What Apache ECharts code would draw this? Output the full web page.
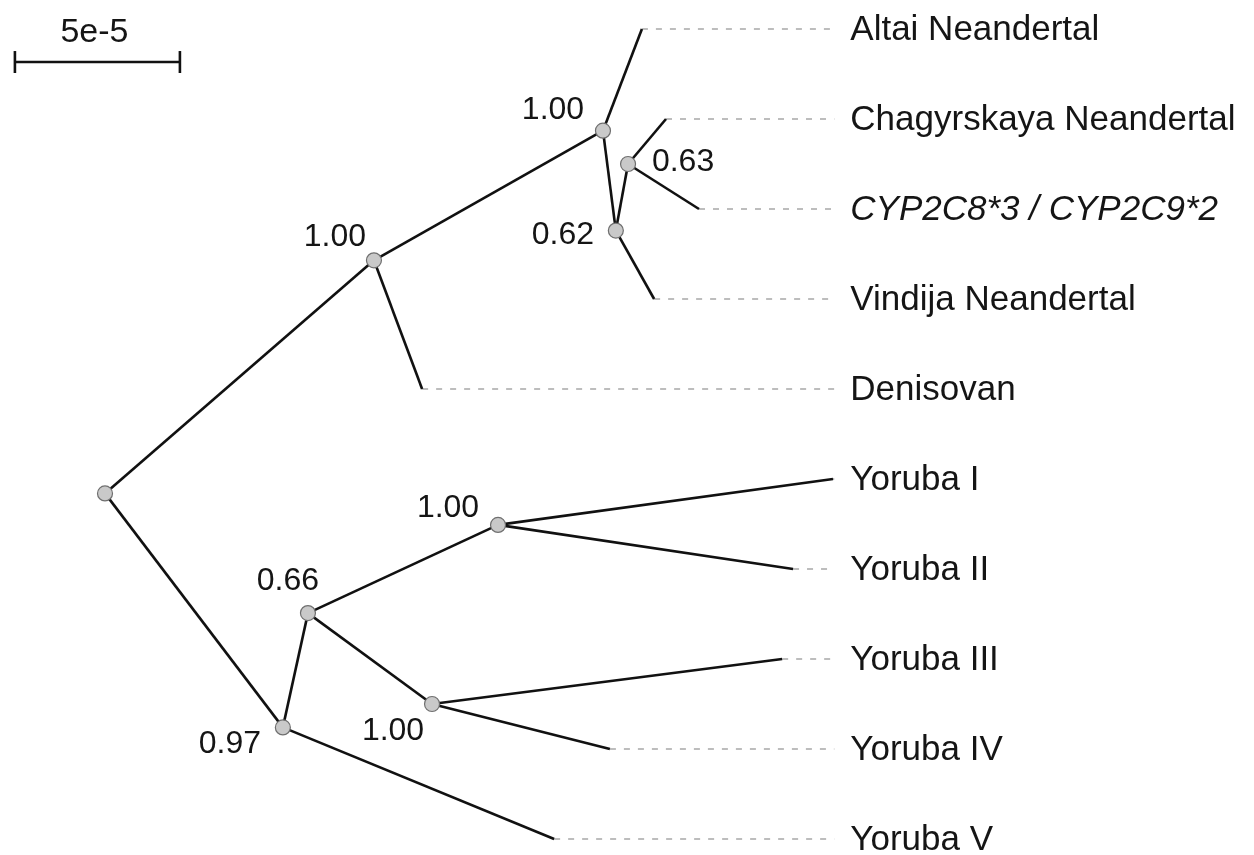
<!DOCTYPE html>
<html>
<head>
<meta charset="utf-8">
<script src="https://cdn.jsdelivr.net/npm/echarts@6/dist/echarts.min.js"></script>
<style>
html,body{margin:0;padding:0;background:#fff;}
#chart{width:1254px;height:855px;}
</style>
</head>
<body>
<div id="chart"></div>
<script>
// ---- Data (distances in units of 1e-5 substitutions/site, rows = leaf order) ----
const nodeIds    = ['root','ND','Nean','n062','n063','Altai','Chag','CYP','Vind','Denis','Yroot','n066','Y12','Y34','Y1','Y2','Y3','Y4','Y5'];
const parentIds  = [null,'root','ND','Nean','n062','Nean','n063','n063','n062','ND','root','Yroot','n066','n066','Y12','Y12','Y34','Y34','Yroot'];
const nodeDist   = [0, 8.15, 15.09, 15.48, 15.85, 16.27, 17.0, 18.0, 16.64, 9.61, 5.39, 6.15, 11.91, 9.91, 22.06, 20.85, 20.52, 15.30, 13.61];
const nodeRow    = [5.16, 2.57, 1.13, 2.24, 1.5, 0, 1, 2, 3, 4, 7.76, 6.49, 5.51, 7.5, 5, 6, 7, 8, 9];
const supportVal = ['', '1.00', '1.00', '0.62', '0.63', null, null, null, null, null, '0.97', '0.66', '1.00', '1.00', null, null, null, null, null];
const leafIds    = ['Altai','Chag','CYP','Vind','Denis','Y1','Y2','Y3','Y4','Y5'];
const leafNames  = ['Altai Neandertal','Chagyrskaya Neandertal','CYP2C8*3 / CYP2C9*2','Vindija Neandertal','Denisovan','Yoruba I','Yoruba II','Yoruba III','Yoruba IV','Yoruba V'];
const italicLeaves = ['CYP'];
const guideEnd   = 22.1;     // where dashed guide lines end
const scaleLength = 5;       // 5e-5
const scaleLabel = '5e-5';
const scaleStart = -2.73;
const scaleRow   = 0.367;

// label offsets for support values (styling)
const supportOffset = {
  ND: [-39, -23], Nean: [-50, -21], n062: [-53, 5], n063: [55, -2],
  Yroot: [-53, 17], n066: [-20, -32], Y12: [-50, -17], Y34: [-39, 27]
};

const FONT = "'Liberation Sans', Arial, 'DejaVu Sans', sans-serif";
const TXT = '#151515';
const idx = id => nodeIds.indexOf(id);

const series = [];

// branches
nodeIds.forEach((id, i) => {
  const p = parentIds[i];
  if (!p) return;
  const j = idx(p);
  series.push({
    type: 'line', silent: true, symbol: 'none', z: 2,
    data: [[nodeDist[j], nodeRow[j]], [nodeDist[i], nodeRow[i]]],
    lineStyle: { color: '#111', width: 2.6 },
    clip: false, animation: false
  });
});

// dashed guides from leaves to labels
leafIds.forEach(id => {
  const i = idx(id);
  if (nodeDist[i] >= guideEnd) return;
  series.push({
    type: 'line', silent: true, symbol: 'none', z: 1,
    data: [[nodeDist[i], nodeRow[i]], [guideEnd, nodeRow[i]]],
    lineStyle: { color: '#bdbdbd', width: 2, type: [6, 8] },
    clip: false, animation: false
  });
});

// internal node circles with support values
const internalData = [];
nodeIds.forEach((id, i) => {
  if (supportVal[i] === null) return;
  const off = supportOffset[id] || [0, 0];
  internalData.push({
    value: [nodeDist[i], nodeRow[i]],
    label: {
      show: supportVal[i] !== '',
      formatter: supportVal[i],
      position: 'inside',
      offset: off,
      align: 'center', verticalAlign: 'middle',
      fontSize: 32, fontFamily: FONT, color: TXT
    }
  });
});
series.push({
  type: 'scatter', z: 5, symbol: 'circle', symbolSize: 15,
  itemStyle: { color: '#c9c9c9', borderColor: '#6f6f6f', borderWidth: 1.2, opacity: 1 },
  data: internalData, clip: false, animation: false, silent: true
});

// leaf labels
series.push({
  type: 'scatter', z: 5, symbolSize: 0,
  itemStyle: { opacity: 1 },
  data: leafIds.map((id, k) => ({
    value: [guideEnd, nodeRow[idx(id)]],
    label: {
      show: true, formatter: leafNames[k], position: 'right', distance: 16, offset: [0, 1],
      fontSize: 35, fontFamily: FONT, color: TXT,
      fontStyle: italicLeaves.includes(id) ? 'italic' : 'normal'
    }
  })),
  clip: false, animation: false, silent: true
});

// scale bar
series.push({
  type: 'line', z: 4, symbol: 'rect', symbolSize: [2.6, 22],
  itemStyle: { color: '#111' },
  lineStyle: { color: '#111', width: 2.6 },
  data: [[scaleStart, scaleRow], [scaleStart + scaleLength, scaleRow]],
  clip: false, animation: false, silent: true
});
series.push({
  type: 'scatter', z: 4, symbolSize: 0,
  itemStyle: { opacity: 1 },
  data: [{
    value: [scaleStart + scaleLength / 2, scaleRow],
    label: { show: true, formatter: scaleLabel, position: 'inside', offset: [-3, -29],
      align: 'center', verticalAlign: 'middle', fontSize: 34, fontFamily: FONT, color: TXT }
  }],
  clip: false, animation: false, silent: true
});

const chart = echarts.init(document.getElementById('chart'), null, { renderer: 'canvas' });
chart.setOption({
  backgroundColor: '#fff',
  animation: false,
  grid: { left: 6, top: 29, width: 891, height: 810 },
  xAxis: { type: 'value', min: -3, max: 24, show: false },
  yAxis: { type: 'value', min: 0, max: 9, inverse: true, show: false },
  series
});
</script>
</body>
</html>
